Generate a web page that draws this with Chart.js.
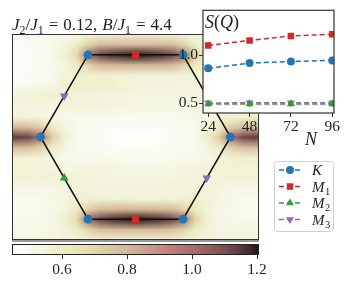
<!DOCTYPE html>
<html>
<head>
<meta charset="UTF-8">
<title>S(Q) map</title>
<script src="https://cdn.jsdelivr.net/npm/chart.js"></script>
<style>
  body { margin: 0; background: #fff; }
  #wrap { position: relative; width: 345px; height: 286px; }
  #wrap canvas { position: absolute; left: 0; top: 0; }
</style>
</head>
<body>
<div id="wrap">
  <canvas id="mapChart" width="345" height="286"></canvas>
  <canvas id="barChart" width="345" height="286"></canvas>
  <canvas id="insetChart" width="345" height="286"></canvas>
</div>
<script>
// --- structure factor map (grid centres in units of |K|) ---
const gridX = [-1.25, -1.125, -1, -0.875, -0.75, -0.625, -0.5, -0.375, -0.25, -0.125, 0,
               0.125, 0.25, 0.375, 0.5, 0.625, 0.75, 0.875, 1, 1.125, 1.25];
const gridY = [1.0825, 0.9743, 0.866, 0.7578, 0.6495, 0.5413, 0.433, 0.3248, 0.2165, 0.1083, 0,
               -0.1083, -0.2165, -0.3248, -0.433, -0.5413, -0.6495, -0.7578, -0.866, -0.9743, -1.0825];
const sqMap = [
  [.50,.50,.50,.51,.52,.53,.54,.56,.57,.57,.57,.57,.57,.56,.55,.54,.53,.52,.52,.52,.52],
  [.47,.47,.48,.50,.54,.60,.71,.78,.79,.79,.79,.79,.79,.78,.71,.60,.54,.52,.52,.52,.52],
  [.47,.47,.49,.52,.57,.68,1.0,1.13,1.17,1.19,1.2,1.19,1.17,1.13,1.02,.70,.57,.53,.52,.52,.52],
  [.47,.47,.48,.50,.54,.60,.71,.78,.79,.79,.79,.79,.79,.78,.71,.62,.55,.53,.52,.52,.52],
  [.47,.47,.48,.50,.55,.57,.58,.58,.57,.56,.55,.55,.55,.55,.55,.55,.53,.52,.52,.52,.52],
  [.50,.50,.51,.53,.56,.58,.58,.58,.57,.56,.55,.54,.54,.54,.53,.53,.53,.53,.53,.53,.53],
  [.55,.55,.56,.57,.57,.56,.55,.54,.53,.53,.53,.53,.53,.53,.53,.54,.55,.56,.56,.56,.56],
  [.53,.53,.53,.53,.53,.54,.55,.55,.54,.53,.52,.52,.52,.52,.52,.53,.54,.55,.55,.55,.55],
  [.54,.54,.53,.52,.51,.50,.50,.50,.50,.49,.49,.49,.49,.49,.50,.51,.52,.54,.56,.57,.57],
  [.78,.77,.71,.60,.53,.50,.49,.48,.47,.47,.47,.47,.47,.48,.49,.50,.53,.60,.71,.77,.78],
  [1.14,1.11,.98,.72,.57,.50,.49,.47,.46,.45,.45,.45,.46,.47,.49,.51,.57,.72,.98,1.11,1.14],
  [.78,.77,.71,.60,.53,.50,.49,.48,.47,.47,.47,.47,.47,.48,.49,.50,.53,.60,.71,.77,.78],
  [.56,.56,.55,.53,.51,.50,.50,.50,.50,.49,.49,.49,.49,.50,.50,.51,.52,.54,.57,.58,.58],
  [.56,.55,.54,.53,.53,.53,.54,.54,.53,.52,.52,.52,.52,.52,.53,.54,.55,.56,.56,.56,.56],
  [.55,.55,.55,.56,.56,.55,.54,.53,.53,.53,.53,.53,.53,.53,.54,.55,.56,.56,.55,.55,.55],
  [.52,.52,.52,.52,.53,.54,.55,.55,.55,.54,.54,.54,.54,.55,.55,.55,.54,.53,.52,.52,.52],
  [.50,.50,.50,.51,.53,.56,.57,.57,.56,.56,.55,.55,.55,.56,.57,.57,.56,.53,.51,.50,.50],
  [.50,.50,.50,.51,.54,.60,.71,.78,.79,.79,.79,.79,.79,.78,.71,.62,.55,.52,.51,.50,.50],
  [.50,.50,.50,.52,.57,.68,1.0,1.13,1.17,1.19,1.2,1.19,1.17,1.13,1.02,.70,.57,.52,.51,.50,.50],
  [.51,.51,.51,.52,.55,.60,.70,.77,.78,.78,.78,.78,.78,.77,.70,.61,.56,.53,.52,.52,.52],
  [.53,.53,.53,.53,.54,.55,.56,.57,.57,.57,.57,.57,.57,.57,.56,.55,.54,.53,.53,.53,.53]
];

// Brillouin zone edge and high-symmetry points
const hexX = [-0.5, 0.5, 1, 0.5, -0.5, -1, -0.5];
const hexY = [0.866, 0.866, 0, -0.866, -0.866, 0, 0.866];
const kX = [-0.5, 0.5, 1, 0.5, -0.5, -1];
const kY = [0.866, 0.866, 0, -0.866, -0.866, 0];
const m1X = [0, 0];
const m1Y = [0.866, -0.866];
const m2X = [-0.75, 0.75];
const m2Y = [-0.433, 0.433];
const m3X = [-0.75, 0.75];
const m3Y = [0.433, -0.433];

// colour bar
const cMin = 0.446, cMax = 1.206;
const cbTicks = [0.6, 0.8, 1.0, 1.2];

// inset: S(Q) against system size
const sizeN = [24, 48, 72, 96];
const sK  = [0.865, 0.92, 0.937, 0.948];
const sM1 = [1.104, 1.156, 1.203, 1.22];
const sM2 = [0.493, 0.495, 0.495, 0.495];
const sM3 = [0.505, 0.506, 0.506, 0.506];
const insetYTicks = [0.5, 1.0];
const seriesNames = ['K', 'M_1', 'M_2', 'M_3'];

const SERIF = '"Liberation Serif", "DejaVu Serif", serif';
const zip = (xs, ys) => xs.map((x, i) => ({ x: x, y: ys[i] }));

// matplotlib 'pink_r'
function pinkR(v) {
  let t = (v - cMin) / (cMax - cMin);
  t = Math.min(1, Math.max(0, t));
  const s = 1 - t;
  const hr = Math.min(1, 0.0416 + 0.9584 * s / 0.365079);
  const hg = Math.min(1, Math.max(0, (s - 0.365079) / 0.380953));
  const hb = Math.min(1, Math.max(0, (s - 0.746032) / 0.253968));
  return [hr, hg, hb].map(h => Math.round(255 * Math.sqrt((2 * s + h) / 3)));
}

// text with italic letters and subscripts, "M_1" style
function richText(ctx, x, y, parts, size) {
  ctx.textBaseline = 'alphabetic';
  ctx.textAlign = 'left';
  parts.forEach(p => {
    const sz = p.sub ? size * 0.7 : size;
    ctx.font = (p.it ? 'italic ' : '') + sz + 'px ' + SERIF;
    ctx.fillText(p.t, x + (p.pre || 0), y + (p.sub ? size * 0.22 : 0));
    x += (p.pre || 0) + ctx.measureText(p.t).width + (p.gap || 0);
  });
  return x;
}
function nameParts(name) {
  const [base, sub] = name.split('_');
  const parts = [{ t: base, it: true, gap: 0.5 }];
  if (sub) parts.push({ t: sub, sub: true });
  return parts;
}

// ---------- main map ----------
const heatPlugin = {
  id: 'heat',
  beforeDatasetsDraw(chart) {
    const { ctx, chartArea: a, scales: { x, y } } = chart;
    const off = document.createElement('canvas');
    off.width = gridX.length;
    off.height = gridY.length;
    const octx = off.getContext('2d');
    const img = octx.createImageData(off.width, off.height);
    sqMap.forEach((row, j) => row.forEach((v, i) => {
      const c = pinkR(v);
      const k = 4 * (j * off.width + i);
      img.data[k] = c[0]; img.data[k + 1] = c[1]; img.data[k + 2] = c[2]; img.data[k + 3] = 255;
    }));
    octx.putImageData(img, 0, 0);
    const dx = gridX[1] - gridX[0], dy = gridY[0] - gridY[1];
    const x0 = x.getPixelForValue(gridX[0] - dx / 2);
    const x1 = x.getPixelForValue(gridX[gridX.length - 1] + dx / 2);
    const y0 = y.getPixelForValue(gridY[0] + dy / 2);
    const y1 = y.getPixelForValue(gridY[gridY.length - 1] - dy / 2);
    ctx.save();
    ctx.beginPath();
    ctx.rect(a.left, a.top, a.width, a.height);
    ctx.clip();
    ctx.imageSmoothingEnabled = true;
    ctx.imageSmoothingQuality = 'low';
    ctx.drawImage(off, x0, y0, x1 - x0, y1 - y0);
    ctx.restore();
  },
  afterDraw(chart) {
    const { ctx, chartArea: a } = chart;
    ctx.save();
    ctx.strokeStyle = '#333';
    ctx.lineWidth = 1;
    ctx.strokeRect(a.left + 0.5, a.top + 0.5, a.width - 1, a.height - 1);
    ctx.fillStyle = '#999';
    ctx.fillRect(a.left, a.bottom, a.width, 2);
    ctx.fillStyle = '#222';
    richText(ctx, 12, 30, [
      { t: 'J', it: true }, { t: '2', sub: true }, { t: '/' },
      { t: 'J', it: true }, { t: '1', sub: true }, { t: '=', pre: 5, gap: 5 }, { t: '0.12,' },
      { t: 'B', it: true, pre: 5 }, { t: '/' }, { t: 'J', it: true }, { t: '1', sub: true },
      { t: '=', pre: 5, gap: 5 }, { t: '4.4' }
    ], 17);
    ctx.restore();
  }
};

new Chart(document.getElementById('mapChart'), {
  type: 'scatter',
  data: {
    datasets: [
      { data: zip(kX, kY), pointStyle: 'circle', pointRadius: 4.4, backgroundColor: '#1f77b4', borderWidth: 0 },
      { data: zip(m1X, m1Y), pointStyle: 'rect', pointRadius: 5, backgroundColor: '#d62728', borderWidth: 0 },
      { data: zip(m2X, m2Y), pointStyle: 'triangle', pointRadius: 5, backgroundColor: '#2ca02c', borderWidth: 0 },
      { data: zip(m3X, m3Y), pointStyle: 'triangle', rotation: 180, pointRadius: 5, backgroundColor: '#9467bd', borderWidth: 0 },
      { data: zip(hexX, hexY), showLine: true, borderColor: '#111', borderWidth: 1.5, pointRadius: 0, order: 10 }
    ]
  },
  options: {
    responsive: false,
    animation: false,
    events: [],
    layout: { padding: { left: 12, top: 34, right: 86, bottom: 46 } },
    plugins: { legend: { display: false }, tooltip: { enabled: false } },
    scales: {
      x: { type: 'linear', min: -1.3, max: 1.3, display: false },
      y: { type: 'linear', min: -1.085, max: 1.085, display: false }
    }
  },
  plugins: [heatPlugin]
});

// ---------- colour bar ----------
const barPlugin = {
  id: 'bar',
  beforeDatasetsDraw(chart) {
    const { ctx, chartArea: a, scales: { x } } = chart;
    ctx.save();
    for (let px = Math.floor(a.left); px < a.right; px++) {
      const c = pinkR(x.getValueForPixel(px + 0.5));
      ctx.fillStyle = 'rgb(' + c.join(',') + ')';
      ctx.fillRect(px, a.top, 1, a.height);
    }
    ctx.strokeStyle = '#222';
    ctx.lineWidth = 1;
    ctx.strokeRect(a.left + 0.5, a.top + 0.5, a.width - 1, a.height - 1);
    ctx.restore();
  }
};

new Chart(document.getElementById('barChart'), {
  type: 'scatter',
  data: { datasets: [] },
  options: {
    responsive: false,
    animation: false,
    events: [],
    layout: { padding: { left: 12, top: 244, right: 86, bottom: 9 } },
    plugins: { legend: { display: false }, tooltip: { enabled: false } },
    scales: {
      x: {
        type: 'linear', min: cMin, max: cMax,
        afterBuildTicks: ax => { ax.ticks = cbTicks.map(v => ({ value: v })); },
        afterFit: ax => { ax.height = 22; },
        border: { display: false },
        grid: { drawOnChartArea: false, drawTicks: true, tickLength: 4, tickColor: '#333', tickWidth: 1 },
        ticks: { padding: 2, color: '#222', font: { family: SERIF, size: 15.5 }, maxRotation: 0,
                 callback: v => v.toFixed(1) }
      },
      y: { display: false }
    }
  },
  plugins: [barPlugin]
});

// ---------- inset ----------
const insetPlugin = {
  id: 'inset',
  beforeDraw(chart) {
    const { ctx, chartArea: a } = chart;
    ctx.save();
    ctx.fillStyle = '#fff';
    ctx.fillRect(a.left, a.top, a.width, a.height);
    ctx.restore();
  },
  afterDraw(chart) {
    const { ctx, chartArea: a } = chart;
    ctx.save();
    ctx.strokeStyle = '#333';
    ctx.lineWidth = 1.2;
    ctx.strokeRect(a.left, a.top, a.width, a.height);
    ctx.fillStyle = '#222';
    richText(ctx, 205, 28, [{ t: 'S', it: true }, { t: '(' }, { t: 'Q', it: true }, { t: ')' }], 18);
    richText(ctx, 305, 145, [{ t: 'N', it: true }], 18);

    // legend box
    const bx = 274.5, by = 161.5, bw = 59, bh = 70, r = 3;
    ctx.beginPath();
    ctx.moveTo(bx + r, by);
    ctx.arcTo(bx + bw, by, bx + bw, by + bh, r);
    ctx.arcTo(bx + bw, by + bh, bx, by + bh, r);
    ctx.arcTo(bx, by + bh, bx, by, r);
    ctx.arcTo(bx, by, bx + bw, by, r);
    ctx.closePath();
    ctx.fillStyle = 'rgba(255,255,255,0.85)';
    ctx.fill();
    ctx.strokeStyle = '#d0d0d0';
    ctx.lineWidth = 1;
    ctx.stroke();
    chart.data.datasets.forEach((ds, i) => {
      const yy = 170 + i * 16.5;
      ctx.strokeStyle = ds.borderColor;
      ctx.lineWidth = 1.5;
      ctx.setLineDash(ds.borderDash);
      ctx.beginPath();
      ctx.moveTo(279, yy);
      ctx.lineTo(301, yy);
      ctx.stroke();
      ctx.setLineDash([]);
      ctx.fillStyle = ds.backgroundColor;
      Chart.helpers.drawPoint(ctx, { pointStyle: ds.pointStyle, radius: ds.pointRadius,
        rotation: ds.rotation || 0, borderWidth: 0 }, 290, yy);
      ctx.fillStyle = '#222';
      richText(ctx, 312, yy + 5, nameParts(seriesNames[i]), 15);
    });
    ctx.restore();
  }
};

const insetSeries = [sK, sM1, sM2, sM3];
const insetColors = ['#1f77b4', '#d62728', '#2ca02c', '#9467bd'];
const insetStyles = ['circle', 'rect', 'triangle', 'triangle'];
const insetRadius = [4, 4.6, 4.6, 4.6];

new Chart(document.getElementById('insetChart'), {
  type: 'scatter',
  data: {
    datasets: insetSeries.map((vals, i) => ({
      data: zip(sizeN, vals),
      showLine: true,
      borderColor: insetColors[i],
      backgroundColor: insetColors[i],
      borderWidth: 1.5,
      borderDash: [5, 3],
      pointStyle: insetStyles[i],
      rotation: i === 3 ? 180 : 0,
      pointRadius: insetRadius[i],
      pointBorderWidth: 0
    }))
  },
  options: {
    responsive: false,
    animation: false,
    events: [],
    layout: { padding: { left: 175, top: 10, right: 11, bottom: 149 } },
    plugins: { legend: { display: false }, tooltip: { enabled: false } },
    scales: {
      x: {
        type: 'linear', min: 21, max: 97,
        afterBuildTicks: ax => { ax.ticks = sizeN.map(v => ({ value: v })); },
        afterFit: ax => { ax.height = 24; },
        border: { display: false },
        grid: { drawOnChartArea: false, drawTicks: true, tickLength: 4, tickColor: '#333', tickWidth: 1 },
        ticks: { padding: 1, color: '#222', font: { family: SERIF, size: 15.5 }, maxRotation: 0 }
      },
      y: {
        type: 'linear', min: 0.4, max: 1.47,
        afterBuildTicks: ax => { ax.ticks = insetYTicks.map(v => ({ value: v })); },
        afterFit: ax => { ax.width = 28; },
        border: { display: false },
        grid: { drawOnChartArea: false, drawTicks: true, tickLength: 4, tickColor: '#333', tickWidth: 1 },
        ticks: { padding: 1, color: '#222', font: { family: SERIF, size: 15.5 },
                 callback: v => v.toFixed(1) }
      }
    }
  },
  plugins: [insetPlugin]
});
</script>
</body>
</html>
